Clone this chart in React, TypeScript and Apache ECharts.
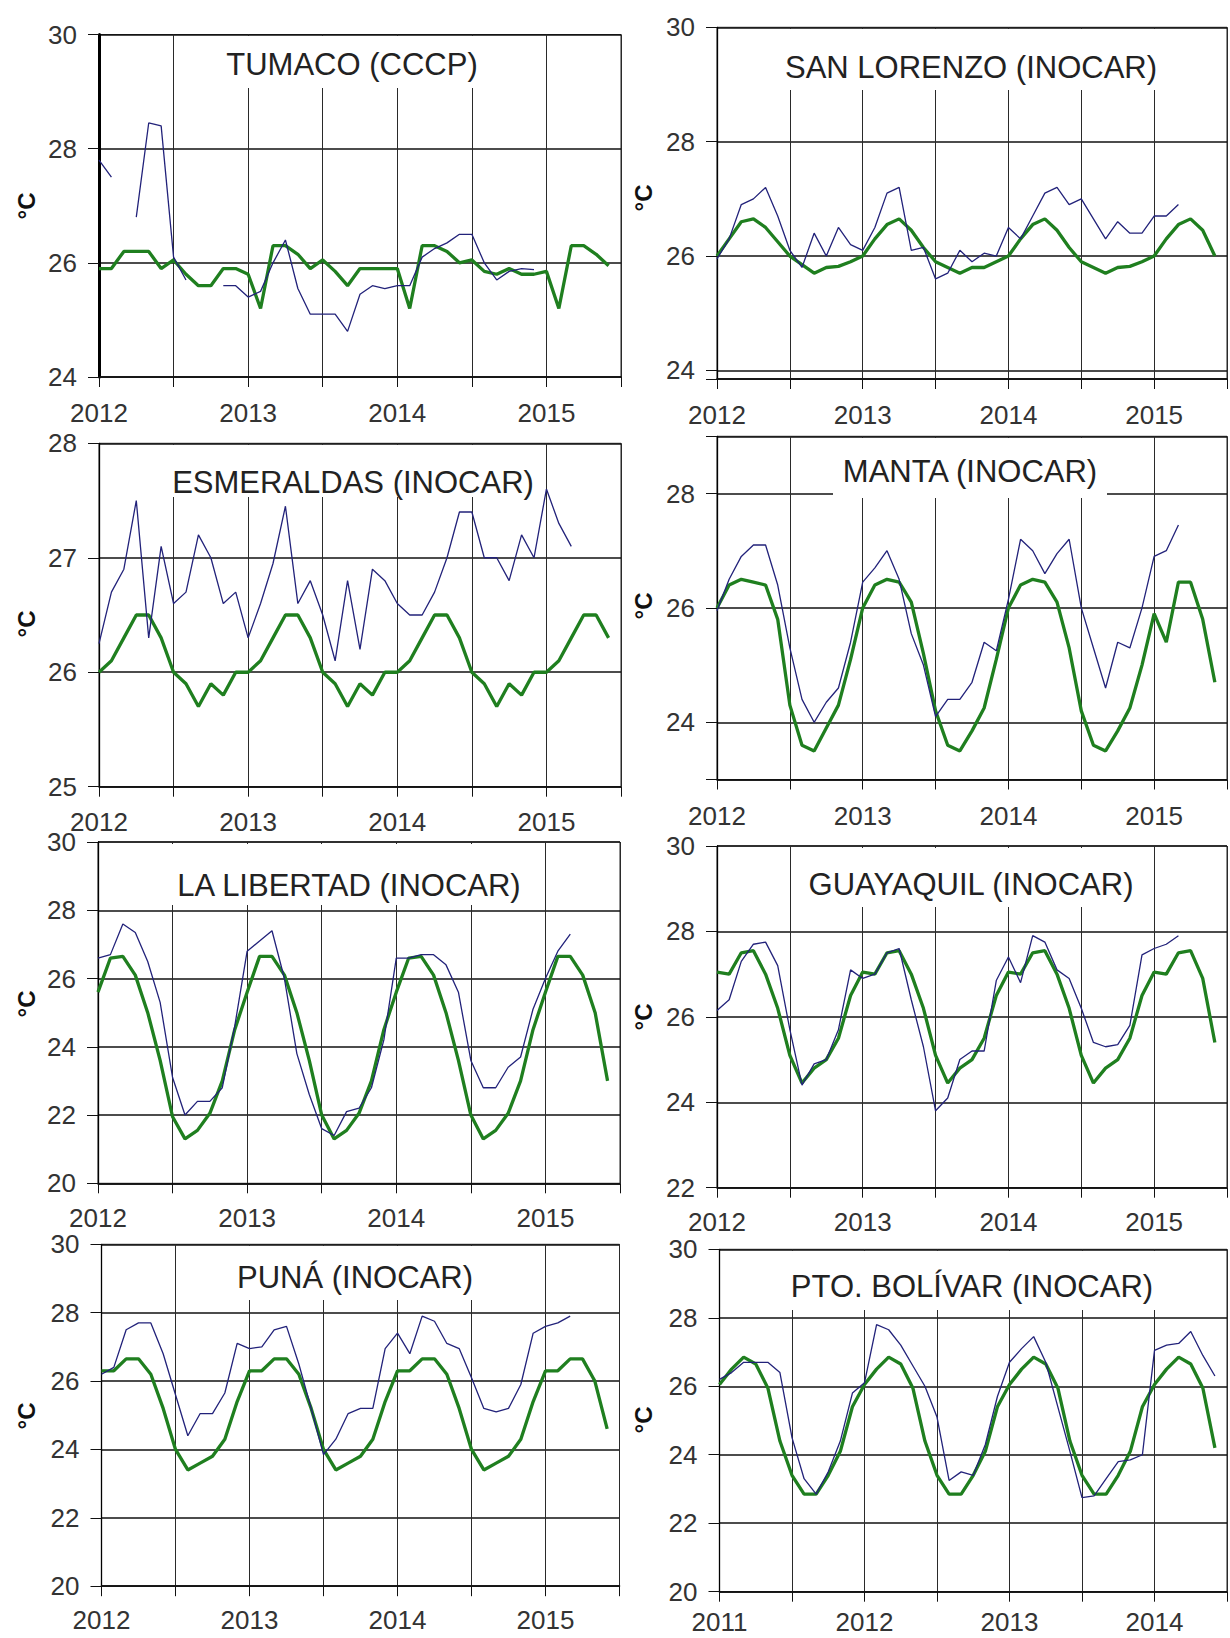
import React, { useEffect, useRef } from 'react';
import * as echarts from 'echarts';

// Monthly sea-surface temperature: observed (thin navy) and climatology (thick green), °C.

const TUMACO_OBS = [27.8, 27.5, null, 26.8, 28.45, 28.4, 26.1, 25.7, null, null, 25.6, 25.6,
  25.4, 25.5, 26.0, 26.4, 25.55, 25.1, 25.1, 25.1, 24.8, 25.45, 25.6, 25.55,
  25.6, 25.6, 26.1, 26.25, 26.35, 26.5, 26.5, 26.0, 25.7, 25.85, 25.9, 25.88];
const TUMACO_CLIM = [25.9, 25.9, 26.2, 26.2, 26.2, 25.9, 26.05, 25.8, 25.6, 25.6, 25.9, 25.9,
  25.8, 25.2, 26.3, 26.3, 26.15, 25.9, 26.05, 25.85, 25.6, 25.9, 25.9, 25.9,
  25.9, 25.2, 26.3, 26.3, 26.2, 26.0, 26.05, 25.85, 25.8, 25.9, 25.8, 25.8,
  25.85, 25.2, 26.3, 26.3, 26.15, 25.95];

const SANLORENZO_OBS = [25.95, 26.3, 26.9, 27.0, 27.2, 26.7, 26.1, 25.8, 26.4, 26.0, 26.5, 26.2,
  26.1, 26.5, 27.1, 27.2, 26.1, 26.15, 25.6, 25.7, 26.1, 25.9, 26.05, 26.0,
  26.5, 26.3, 26.7, 27.1, 27.2, 26.9, 27.0, 26.65, 26.3, 26.6, 26.4, 26.4,
  26.7, 26.7, 26.9];
const SANLORENZO_CLIM = [26.0, 26.3, 26.6, 26.65, 26.5, 26.25, 26.0, 25.85, 25.7, 25.8, 25.82, 25.9,
  26.0, 26.3, 26.55, 26.65, 26.45, 26.15, 25.9, 25.8, 25.7, 25.8, 25.8, 25.9,
  26.0, 26.3, 26.55, 26.65, 26.45, 26.15, 25.9, 25.8, 25.7, 25.8, 25.82, 25.9,
  26.0, 26.3, 26.55, 26.65, 26.45, 26.0];

const ESMERALDAS_OBS = [26.25, 26.7, 26.9, 27.5, 26.3, 27.1, 26.6, 26.7, 27.2, 27.0, 26.6, 26.7,
  26.3, 26.6, 26.95, 27.45, 26.6, 26.8, 26.5, 26.1, 26.8, 26.2, 26.9, 26.8,
  26.6, 26.5, 26.5, 26.7, 27.0, 27.4, 27.4, 27.0, 27.0, 26.8, 27.2, 27.0,
  27.6, 27.3, 27.1];
const ESMERALDAS_CLIM = [26.0, 26.1, 26.3, 26.5, 26.5, 26.3, 26.0, 25.9, 25.7, 25.9, 25.8, 26.0,
  26.0, 26.1, 26.3, 26.5, 26.5, 26.3, 26.0, 25.9, 25.7, 25.9, 25.8, 26.0,
  26.0, 26.1, 26.3, 26.5, 26.5, 26.3, 26.0, 25.9, 25.7, 25.9, 25.8, 26.0,
  26.0, 26.1, 26.3, 26.5, 26.5, 26.3];

const MANTA_OBS = [25.95, 26.5, 26.9, 27.1, 27.1, 26.4, 25.3, 24.4, 24.0, 24.35, 24.6, 25.4,
  26.45, 26.7, 27.0, 26.5, 25.55, 25.0, 24.1, 24.4, 24.4, 24.7, 25.4, 25.25,
  26.15, 27.2, 27.0, 26.6, 26.95, 27.2, 26.0, 25.3, 24.6, 25.4, 25.3, 26.0,
  26.9, 27.0, 27.45];
const MANTA_CLIM = [26.0, 26.4, 26.5, 26.45, 26.4, 25.8, 24.3, 23.6, 23.5, 23.9, 24.3, 25.1,
  26.0, 26.4, 26.5, 26.45, 26.1, 25.2, 24.2, 23.6, 23.5, 23.85, 24.25, 25.1,
  26.0, 26.4, 26.5, 26.45, 26.1, 25.3, 24.2, 23.6, 23.5, 23.85, 24.25, 25.0,
  25.9, 25.4, 26.45, 26.45, 25.8, 24.7];

const LIBERTAD_OBS = [26.6, 26.7, 27.6, 27.35, 26.5, 25.3, 23.1, 22.0, 22.4, 22.4, 22.8, 24.6,
  26.8, 27.1, 27.4, 26.0, 23.8, 22.6, 21.6, 21.4, 22.1, 22.2, 22.8, 24.2,
  26.6, 26.6, 26.7, 26.7, 26.4, 25.6, 23.6, 22.8, 22.8, 23.4, 23.7, 25.1,
  26.0, 26.8, 27.3];
const LIBERTAD_CLIM = [25.6, 26.6, 26.65, 26.1, 25.0, 23.6, 21.95, 21.3, 21.55, 22.05, 23.0, 24.5,
  25.6, 26.65, 26.65, 26.1, 25.0, 23.6, 22.0, 21.3, 21.55, 22.05, 23.0, 24.5,
  25.6, 26.6, 26.65, 26.1, 25.0, 23.6, 22.0, 21.3, 21.55, 22.05, 23.0, 24.5,
  25.6, 26.65, 26.65, 26.1, 25.0, 23.0];

const GUAYAQUIL_OBS = [26.15, 26.4, 27.3, 27.7, 27.75, 27.2, 25.7, 24.4, 24.9, 25.0, 25.7, 27.1,
  26.9, 27.0, 27.5, 27.6, 26.4, 25.3, 23.8, 24.1, 25.0, 25.2, 25.2, 26.85,
  27.4, 26.8, 27.9, 27.75, 27.1, 26.9, 26.2, 25.4, 25.3, 25.35, 25.8, 27.45,
  27.6, 27.7, 27.9];
const GUAYAQUIL_CLIM = [27.05, 27.0, 27.5, 27.55, 27.0, 26.2, 25.1, 24.45, 24.8, 25.0, 25.5, 26.5,
  27.05, 27.0, 27.5, 27.55, 27.0, 26.2, 25.1, 24.45, 24.8, 25.0, 25.5, 26.5,
  27.05, 27.0, 27.5, 27.55, 27.0, 26.2, 25.1, 24.45, 24.8, 25.0, 25.5, 26.5,
  27.05, 27.0, 27.5, 27.55, 26.9, 25.4];

const PUNA_OBS = [26.2, 26.4, 27.5, 27.7, 27.7, 26.8, 25.6, 24.4, 25.05, 25.05, 25.65, 27.1,
  26.95, 27.0, 27.5, 27.6, 26.5, 25.2, 23.85, 24.3, 25.05, 25.2, 25.2, 26.95,
  27.4, 26.8, 27.9, 27.75, 27.1, 26.95, 26.1, 25.2, 25.1, 25.2, 25.9, 27.4,
  27.6, 27.7, 27.9];
const PUNA_CLIM = [26.3, 26.3, 26.65, 26.65, 26.2, 25.2, 24.0, 23.4, 23.6, 23.8, 24.3, 25.4,
  26.3, 26.3, 26.65, 26.65, 26.2, 25.2, 24.0, 23.4, 23.6, 23.8, 24.3, 25.4,
  26.3, 26.3, 26.65, 26.65, 26.2, 25.2, 24.0, 23.4, 23.6, 23.8, 24.3, 25.4,
  26.3, 26.3, 26.65, 26.65, 26.0, 24.6];

const BOLIVAR_OBS = [26.2, 26.4, 26.7, 26.7, 26.7, 26.4, 24.5, 23.3, 22.85, 23.5, 24.4, 25.8,
  26.1, 27.8, 27.65, 27.2, 26.6, 26.0, 25.1, 23.25, 23.5, 23.4, 24.3, 25.7,
  26.7, 27.1, 27.45, 26.7, 25.4, 24.1, 22.75, 22.8, 23.3, 23.8, 23.85, 24.0,
  27.05, 27.2, 27.25, 27.6, 26.9, 26.3];
const BOLIVAR_CLIM = [26.05, 26.5, 26.85, 26.65, 25.95, 24.4, 23.4, 22.85, 22.85, 23.4, 24.1, 25.4,
  26.05, 26.5, 26.85, 26.65, 25.95, 24.4, 23.4, 22.85, 22.85, 23.4, 24.1, 25.4,
  26.05, 26.5, 26.85, 26.65, 25.95, 24.4, 23.4, 22.85, 22.85, 23.4, 24.1, 25.4,
  26.05, 26.5, 26.85, 26.65, 25.95, 24.2];

const TITLES = [
  'TUMACO (CCCP)', 'SAN LORENZO (INOCAR)', 'ESMERALDAS (INOCAR)', 'MANTA (INOCAR)',
  'LA LIBERTAD (INOCAR)', 'GUAYAQUIL (INOCAR)', 'PUNÁ (INOCAR)', 'PTO. BOLÍVAR (INOCAR)',
];
const START_YEARS = [2012, 2012, 2012, 2012, 2012, 2012, 2012, 2011];
const Y_MIN = [24, 23.85, 25, 23, 20, 22, 20, 20];
const Y_MAX = [30, 30, 28, 29, 30, 30, 30, 30];
const Y_LABEL_STEP = [2, 2, 1, 2, 2, 2, 2, 2];
const OBS = [TUMACO_OBS, SANLORENZO_OBS, ESMERALDAS_OBS, MANTA_OBS, LIBERTAD_OBS, GUAYAQUIL_OBS, PUNA_OBS, BOLIVAR_OBS];
const CLIM = [TUMACO_CLIM, SANLORENZO_CLIM, ESMERALDAS_CLIM, MANTA_CLIM, LIBERTAD_CLIM, GUAYAQUIL_CLIM, PUNA_CLIM, BOLIVAR_CLIM];

// Panel placement on the page (pixels); box = white patch behind each station name
const LAYOUT = [
  { left: 99, top: 34.5, width: 522, height: 342.5, axisW: 3, xm: 23, tx: 352, ty: 64, box: [220, 36, 483, 88], ux: 26.5, uy: 206 },
  { left: 717, top: 27.3, width: 520, height: 351.7, axisW: 1.3, xm: 23, tx: 971, ty: 67, box: [779, 29, 1163, 90], ux: 643.5, uy: 198 },
  { left: 99, top: 443.3, width: 522, height: 343.4, axisW: 1.3, xm: 22, tx: 353, ty: 482.5, box: [167, 445, 538, 497], ux: 26.5, uy: 624 },
  { left: 717, top: 436.3, width: 520, height: 343.2, axisW: 1.3, xm: 23, tx: 970, ty: 471, box: [833, 438, 1107, 498], ux: 643.5, uy: 606 },
  { left: 98, top: 842, width: 522, height: 341.3, axisW: 1.3, xm: 22, tx: 349, ty: 885, box: [169, 844, 529, 905], ux: 26.5, uy: 1004 },
  { left: 717, top: 846, width: 520, height: 341.7, axisW: 1.3, xm: 21, tx: 971, ty: 884, box: [800, 848, 1142, 907], ux: 643.5, uy: 1017 },
  { left: 101.5, top: 1244.3, width: 518, height: 341.9, axisW: 1.3, xm: 21, tx: 355, ty: 1277, box: [230, 1246, 480, 1300], ux: 26.5, uy: 1416 },
  { left: 719.5, top: 1249.3, width: 520, height: 342.4, axisW: 1.3, xm: 17, tx: 972, ty: 1286, box: [782, 1251, 1161, 1310], ux: 643.5, uy: 1420 },
];

const TICK_FONT = "'Liberation Sans', Arial, sans-serif";
const TICK_SIZE = 26;
const TITLE_FONT = "'Liberation Sans', Arial, sans-serif";
const TITLE_SIZE = 31;

function buildOption() {
  const grid = LAYOUT.map((l) => ({
    left: l.left, top: l.top, width: l.width, height: l.height,
    show: true, borderColor: '#222', borderWidth: 1, backgroundColor: 'transparent',
  }));

  const xAxis = START_YEARS.map((start, i) => ({
    type: 'value', gridIndex: i, min: start, max: start + 3.5, interval: 0.5,
    axisLine: { show: true, onZero: false, lineStyle: { color: '#111', width: 1.6 } },
    axisTick: { show: true, length: 10, lineStyle: { color: '#111', width: 1 } },
    axisLabel: {
      margin: LAYOUT[i].xm, fontFamily: TICK_FONT, fontSize: TICK_SIZE, color: '#333',
      showMinLabel: true, showMaxLabel: true,
      formatter: (v: number) => (Math.abs(v - Math.round(v)) < 1e-6 ? String(Math.round(v)) : ''),
    },
    splitLine: { show: true, lineStyle: { color: '#2a2a2a', width: 1 } },
  }));

  const yAxis = Y_MIN.map((min, i) => {
    const step = Y_LABEL_STEP[i];
    const even = Math.abs(min / step - Math.round(min / step)) < 1e-6 && Math.abs(Y_MAX[i] / step - Math.round(Y_MAX[i] / step)) < 1e-6;
    return {
      type: 'value', gridIndex: i, min, max: Y_MAX[i],
      ...(even ? { interval: step } : { splitNumber: 3 }),
      axisLine: { show: true, onZero: false, lineStyle: { color: '#000', width: LAYOUT[i].axisW } },
      axisTick: { show: true, length: 11, lineStyle: { color: '#111', width: 1 } },
      axisLabel: {
        margin: 22, fontFamily: TICK_FONT, fontSize: TICK_SIZE, color: '#333',
        formatter: (v: number) => {
          const r = v / step;
          return Math.abs(r - Math.round(r)) < 1e-6 ? String(Math.round(v)) : '';
        },
      },
      splitLine: { show: true, lineStyle: { color: '#111', width: 1.6 } },
    };
  });

  const series: any[] = [];
  START_YEARS.forEach((start, i) => {
    series.push({
      type: 'line', xAxisIndex: i, yAxisIndex: i, symbol: 'none', z: 3,
      data: CLIM[i].map((v, k) => [start + k / 12, v]),
      lineStyle: { color: '#1f7f1f', width: 3.3 },
    });
    series.push({
      type: 'line', xAxisIndex: i, yAxisIndex: i, symbol: 'none', z: 4, connectNulls: false,
      data: OBS[i].map((v, k) => [start + k / 12, v]),
      lineStyle: { color: '#22227a', width: 1.3 },
    });
  });

  const graphic: any[] = [];
  LAYOUT.forEach((l, i) => {
    const [x0, y0, x1, y1] = l.box;
    graphic.push({
      type: 'rect', z: 9, silent: true,
      shape: { x: x0, y: y0, width: x1 - x0, height: y1 - y0 },
      style: { fill: '#fff' },
    });
    graphic.push({
      type: 'text', x: l.tx, y: l.ty, z: 10,
      style: {
        text: TITLES[i], fontFamily: TITLE_FONT, fontSize: TITLE_SIZE, fill: '#222',
        align: 'center', verticalAlign: 'middle',
      },
    });
    graphic.push({
      type: 'text', x: l.ux, y: l.uy, rotation: Math.PI / 2, z: 10,
      style: {
        text: '°C', fontFamily: TITLE_FONT, fontWeight: 'bold', fontSize: 24, fill: '#111',
        align: 'center', verticalAlign: 'middle',
      },
    });
  });

  return { animation: false, backgroundColor: '#fff', grid, xAxis, yAxis, series, graphic };
}

export default function App() {
  const ref = useRef<HTMLDivElement>(null);
  useEffect(() => {
    if (!ref.current) return;
    const chart = echarts.init(ref.current, undefined, { renderer: 'svg' });
    chart.setOption(buildOption() as any);
    return () => chart.dispose();
  }, []);
  return (
    <div
      ref={ref}
      style={{ position: 'absolute', left: 0, top: 0, width: 1230, height: 1638, background: '#fff' }}
    />
  );
}
